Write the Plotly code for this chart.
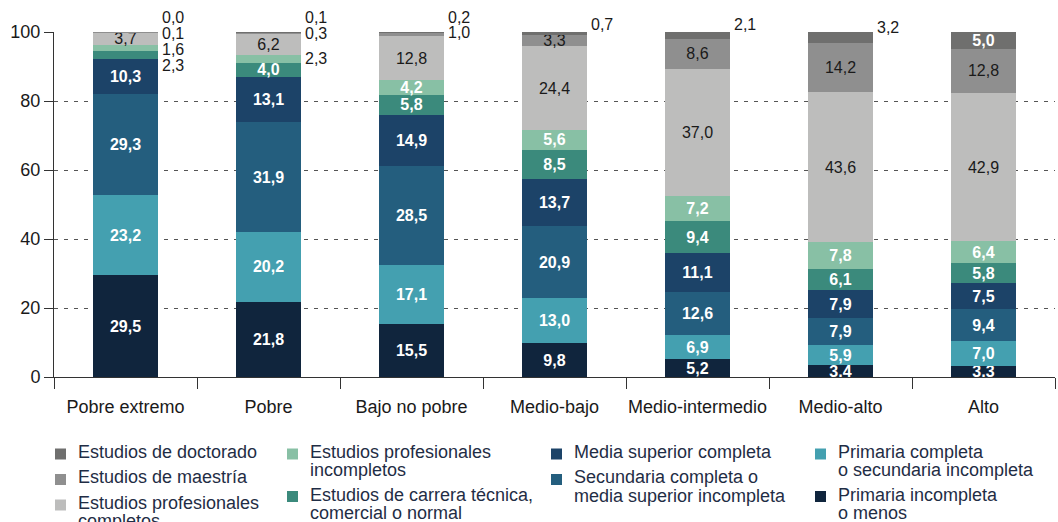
import plotly.graph_objects as go

categories = ["Pobre extremo", "Pobre", "Bajo no pobre", "Medio-bajo",
              "Medio-intermedio", "Medio-alto", "Alto"]

# series, bottom to top
primaria_incompleta = [29.5, 21.8, 15.5, 9.8, 5.2, 3.4, 3.3]
primaria_completa = [23.2, 20.2, 17.1, 13.0, 6.9, 5.9, 7.0]
secundaria_completa = [29.3, 31.9, 28.5, 20.9, 12.6, 7.9, 9.4]
media_superior = [10.3, 13.1, 14.9, 13.7, 11.1, 7.9, 7.5]
carrera_tecnica = [2.3, 4.0, 5.8, 8.5, 9.4, 6.1, 5.8]
prof_incompletos = [1.6, 2.3, 4.2, 5.6, 7.2, 7.8, 6.4]
prof_completos = [3.7, 6.2, 12.8, 24.4, 37.0, 43.6, 42.9]
maestria = [0.1, 0.3, 1.0, 3.3, 8.6, 14.2, 12.8]
doctorado = [0.0, 0.1, 0.2, 0.7, 2.1, 3.2, 5.0]

series_names = [
    "Primaria incompleta<br>o menos",
    "Primaria completa<br>o secundaria incompleta",
    "Secundaria completa o<br>media superior incompleta",
    "Media superior completa",
    "Estudios de carrera técnica,<br>comercial o normal",
    "Estudios profesionales<br>incompletos",
    "Estudios profesionales<br>completos",
    "Estudios de maestría",
    "Estudios de doctorado",
]
series_values = [primaria_incompleta, primaria_completa, secundaria_completa,
                 media_superior, carrera_tecnica, prof_incompletos,
                 prof_completos, maestria, doctorado]

# ---------------- styles ----------------
colors = ["#10253d", "#44a0b0", "#245e7e", "#1c4368", "#3b8a7c",
          "#88c0a5", "#bdbdbc", "#8f8f8f", "#6f6f6e"]
label_dark = [False, False, False, False, False, False, True, True, False]
INSIDE_MIN = 3.3
FONT = "Liberation Sans, Arial, sans-serif"
W, H = 1058, 522
ML, MR, MT, MB = 54, 3, 32, 145
PW, PH = W - ML - MR, H - MT - MB

# pixel nudges for small outside labels: (series index, category index) -> yshift
outside_nudge = {
    (4, 0): -11, (5, 0): -2, (7, 0): -1, (8, 0): 15,
    (5, 1): 1, (7, 1): 0, (8, 1): 15.5,
    (7, 2): 1.5, (8, 2): 15,
    (8, 3): 9.5,
    (8, 4): 11,
    (8, 5): 10.5,
}

# legend columns: (text x in px, series indices top to bottom)
legend_columns = [(76, [8, 7, 6]), (308, [5, 4]), (572, [3, 2]), (836, [1, 0])]
LEG_TOP = 452      # px, centre of first text line
LEG_LINE = 18      # px between wrapped lines
LEG_STEP = 25.5    # px between single-line entries
LEG_COLOR = "#1f2d45"


def fmt(v):
    return f"{v:.1f}".replace(".", ",")


def px_to_paper(px, py):
    return (px - ML) / PW, (H - MB - py) / PH


fig = go.Figure()
for i, (name, vals) in enumerate(zip(series_names, series_values)):
    texts = []
    for v in vals:
        if v >= INSIDE_MIN:
            texts.append(fmt(v) if label_dark[i] else f"<b>{fmt(v)}</b>")
        else:
            texts.append("")
    fig.add_trace(go.Bar(
        x=categories, y=vals, name=name.replace("<br>", " "),
        marker=dict(color=colors[i], line=dict(width=0)),
        text=texts, textposition="inside", insidetextanchor="middle",
        textangle=0, constraintext="none",
        textfont=dict(family=FONT, size=16,
                      color="#1a1a1a" if label_dark[i] else "white"),
        showlegend=False, hoverinfo="x+y+name",
    ))

# outside labels for small segments
annotations = []
for i, vals in enumerate(series_values):
    for j, v in enumerate(vals):
        if v < INSIDE_MIN:
            base = sum(series_values[k][j] for k in range(i))
            annotations.append(dict(
                x=categories[j], y=base + v / 2, xref="x", yref="y",
                text=fmt(v), showarrow=False, xanchor="left",
                xshift=34, yshift=outside_nudge.get((i, j), 0),
                font=dict(family=FONT, size=16, color="#1a1a1a"),
            ))

# legend (drawn as swatches + text so wrapped lines sit tight)
shapes = []
for tx, idxs in legend_columns:
    y = LEG_TOP
    for i in idxs:
        lines = series_names[i].split("<br>")
        mx, my = px_to_paper(tx - 15.5, y + 2)
        shapes.append(dict(
            type="rect", xref="paper", yref="paper",
            xsizemode="pixel", ysizemode="pixel", xanchor=mx, yanchor=my,
            x0=-5.5, x1=5.5, y0=-5.5, y1=5.5,
            fillcolor=colors[i], line=dict(width=0),
        ))
        for k, line in enumerate(lines):
            ax, ay = px_to_paper(tx, y + k * LEG_LINE)
            annotations.append(dict(
                x=ax, y=ay, xref="paper", yref="paper", text=line,
                showarrow=False, xanchor="left", yanchor="middle",
                font=dict(family=FONT, size=18, color=LEG_COLOR),
            ))
        y += LEG_STEP + (len(lines) - 1) * 17

fig.update_layout(
    width=W, height=H,
    margin=dict(l=ML, r=MR, t=MT, b=MB, autoexpand=False),
    paper_bgcolor="white", plot_bgcolor="white",
    barmode="stack", bargap=0.55,
    separators=",.",
    font=dict(family=FONT, size=18, color="#1a1a1a"),
    showlegend=False,
    annotations=annotations, shapes=shapes,
)
fig.update_xaxes(
    type="category", showline=True, linecolor="#333333", linewidth=1,
    ticks="outside", tickson="boundaries", ticklen=11, tickcolor="#333333",
    tickangle=0, showgrid=False, ticklabelstandoff=13,
    tickfont=dict(family=FONT, size=18, color="#1a1a1a"),
)
fig.update_yaxes(
    range=[0, 100], tickvals=[0, 20, 40, 60, 80, 100],
    showline=True, linecolor="#333333", linewidth=1,
    ticks="outside", ticklen=9, tickcolor="#333333",
    showgrid=True, gridcolor="#555555", gridwidth=1, griddash="4px,6px",
    zeroline=False, tickfont=dict(family=FONT, size=18, color="#1a1a1a"),
)

fig.write_html("out.html", config={"displayModeBar": False},
               post_script="document.body.style.margin='0';")
